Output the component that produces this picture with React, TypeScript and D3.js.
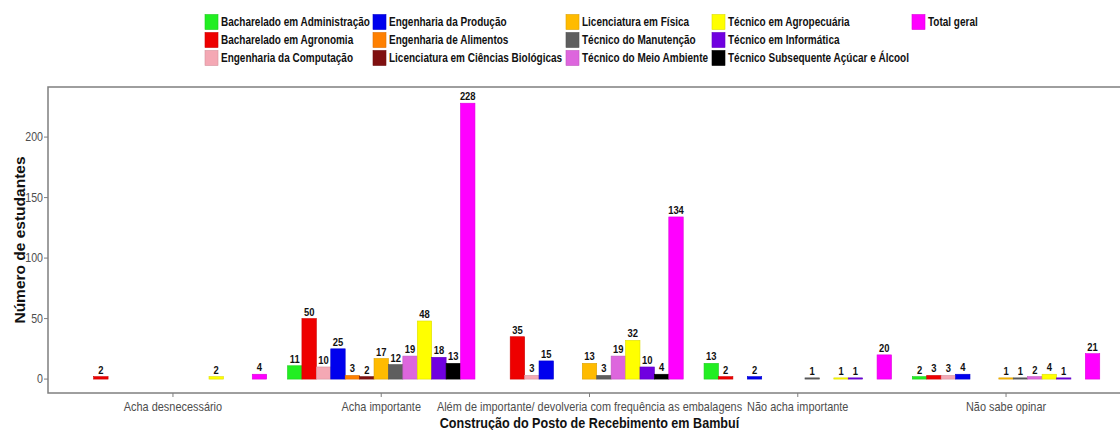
import React, { useEffect, useRef } from 'react';
import * as d3 from 'd3';

// answers on the x axis
const categories = [
  'Acha desnecessário',
  'Acha importante',
  'Além de importante/ devolveria com frequência as embalagens',
  'Não acha importante',
  'Não sabe opinar',
];

// courses (legend order)
const courses = [
  'Bacharelado em Administração',
  'Bacharelado em Agronomia',
  'Engenharia da Computação',
  'Engenharia da Produção',
  'Engenharia de Alimentos',
  'Licenciatura em Ciências Biológicas',
  'Licenciatura em Física',
  'Técnico do Manutenção',
  'Técnico do Meio Ambiente',
  'Técnico em Agropecuária',
  'Técnico em Informática',
  'Técnico Subsequente Açúcar e Álcool',
  'Total geral',
];

const courseColors = [
  '#22ee22', '#ee0000', '#f4a8b4', '#0000ee', '#ff8000', '#801010', '#ffbb00',
  '#5e5e5e', '#dd66dd', '#ffff00', '#7000e0', '#000000', '#ff00ff',
];

// counts per course, one value per category (null = no bar)
const acha_desnecessario = [null, 2, null, null, null, null, null, null, null, 2, null, null, 4];
const acha_importante = [11, 50, 10, 25, 3, 2, 17, 12, 19, 48, 18, 13, 228];
const alem_de_importante = [null, 35, 3, 15, null, null, 13, 3, 19, 32, 10, 4, 134];
const nao_acha_importante = [13, 2, null, 2, null, null, null, 1, null, 1, 1, null, 20];
const nao_sabe_opinar = [2, 3, 3, 4, null, null, 1, 1, 2, 4, 1, null, 21];

const values = [acha_desnecessario, acha_importante, alem_de_importante, nao_acha_importante, nao_sabe_opinar];

const yTicks = [0, 50, 100, 150, 200];

const FONT = '"Liberation Sans", Arial, sans-serif';

type Sel = d3.Selection<any, unknown, null, undefined>;

// text squeezed horizontally, like the narrow font of the original
function addText(
  parent: Sel, x: number, y: number, txt: string | number,
  o: { size: number; bold?: boolean; anchor?: string; sx?: number; fill?: string; dy?: string; rotate?: number }
) {
  const sx = o.sx ?? 0.82;
  return parent.append('text')
    .attr('transform', `translate(${x},${y})${o.rotate ? ` rotate(${o.rotate})` : ''} scale(${sx},1)`)
    .attr('dy', o.dy ?? null)
    .attr('text-anchor', o.anchor ?? 'start')
    .attr('font-size', o.size)
    .attr('font-weight', o.bold ? 'bold' : 'normal')
    .attr('fill', o.fill ?? '#111')
    .text(txt);
}

const App: React.FC = () => {
  const svgRef = useRef<SVGSVGElement>(null);

  useEffect(() => {
    const svg = d3.select(svgRef.current);
    svg.selectAll('*').remove();

    const width = 1120;
    const height = 430;
    const panel = { left: 48, top: 87, right: 1131, bottom: 393 };

    svg.attr('width', width).attr('height', height).style('font-family', FONT);

    // x band scale with ggplot-like 0.6 expansion
    const step = (panel.right - panel.left) / (categories.length + 0.2);
    const x = d3.scaleBand<string>()
      .domain(categories)
      .range([panel.left + step * 0.1, panel.right - step * 0.1])
      .paddingInner(0.1)
      .paddingOuter(0.05);

    const xInner = d3.scaleBand<string>()
      .domain(courses)
      .range([0, x.bandwidth()]);

    const y = d3.scaleLinear()
      .domain([-11.5, 241.4])
      .range([panel.bottom, panel.top]);

    // panel border
    svg.append('rect')
      .attr('x', panel.left)
      .attr('y', panel.top)
      .attr('width', panel.right - panel.left)
      .attr('height', panel.bottom - panel.top)
      .attr('fill', 'white')
      .attr('stroke', '#7f7f7f')
      .attr('stroke-width', 1.5);

    // bars
    const g = svg.append('g');
    categories.forEach((cat, ci) => {
      const grp = g.append('g').attr('transform', `translate(${x(cat)},0)`);
      const rows = courses
        .map((c, i) => ({ course: c, value: values[ci][i], color: courseColors[i] }))
        .filter(d => d.value !== null) as { course: string; value: number; color: string }[];

      grp.selectAll('rect')
        .data(rows)
        .enter()
        .append('rect')
        .attr('x', d => xInner(d.course)!)
        .attr('y', d => y(d.value))
        .attr('width', xInner.bandwidth())
        .attr('height', d => y(0) - y(d.value))
        .attr('fill', d => d.color)
        .attr('stroke', d => d3.color(d.color)!.darker(0.4).toString())
        .attr('stroke-width', 0.6);

      rows.forEach(d => {
        addText(grp, xInner(d.course)! + xInner.bandwidth() / 2, y(d.value) - 3, d.value,
          { size: 11.5, bold: true, anchor: 'middle' });
      });
    });

    // y axis ticks
    const yAxis = svg.append('g');
    yTicks.forEach(t => {
      yAxis.append('line')
        .attr('x1', panel.left - 4).attr('x2', panel.left)
        .attr('y1', y(t)).attr('y2', y(t))
        .attr('stroke', '#7f7f7f');
      addText(yAxis, panel.left - 5, y(t), t,
        { size: 12.5, anchor: 'end', dy: '0.35em', fill: '#4d4d4d', sx: 0.85 });
    });

    // x axis ticks
    const xAxis = svg.append('g');
    categories.forEach(cat => {
      const cx = x(cat)! + x.bandwidth() / 2;
      xAxis.append('line')
        .attr('x1', cx).attr('x2', cx)
        .attr('y1', panel.bottom).attr('y2', panel.bottom + 4)
        .attr('stroke', '#7f7f7f');
      addText(xAxis, cx, panel.bottom + 18, cat,
        { size: 13, anchor: 'middle', fill: '#4d4d4d', sx: 0.84 });
    });

    // axis titles
    addText(svg as Sel, (panel.left + panel.right) / 2, 428, 'Construção do Posto de Recebimento em Bambuí',
      { size: 15, bold: true, anchor: 'middle', sx: 0.84 });

    svg.append('text')
      .attr('transform', `translate(25,${(panel.top + panel.bottom) / 2}) rotate(-90)`)
      .attr('text-anchor', 'middle')
      .attr('font-size', 15.5)
      .attr('font-weight', 'bold')
      .attr('fill', '#111')
      .text('Número de estudantes');

    // legend: 5 columns x 3 rows, filled column-wise
    const colX = [205, 373, 566, 712, 912];
    const rowY = [22, 40, 58];
    const legend = svg.append('g');
    courses.forEach((c, i) => {
      const col = Math.floor(i / 3);
      const row = i % 3;
      const lg = legend.append('g').attr('transform', `translate(${colX[col]},${rowY[row]})`);
      lg.append('rect')
        .attr('x', 0).attr('y', -7.5)
        .attr('width', 13).attr('height', 15)
        .attr('fill', courseColors[i])
        .attr('stroke', d3.color(courseColors[i])!.darker(0.4).toString())
        .attr('stroke-width', 0.6);
      addText(lg as Sel, 16, 0, c, { size: 12.5, bold: true, dy: '0.35em', sx: 0.8 });
    });
  }, []);

  return (
    <div style={{ position: 'absolute', left: 0, top: 0 }}>
      <svg ref={svgRef}></svg>
    </div>
  );
};

export default App;
